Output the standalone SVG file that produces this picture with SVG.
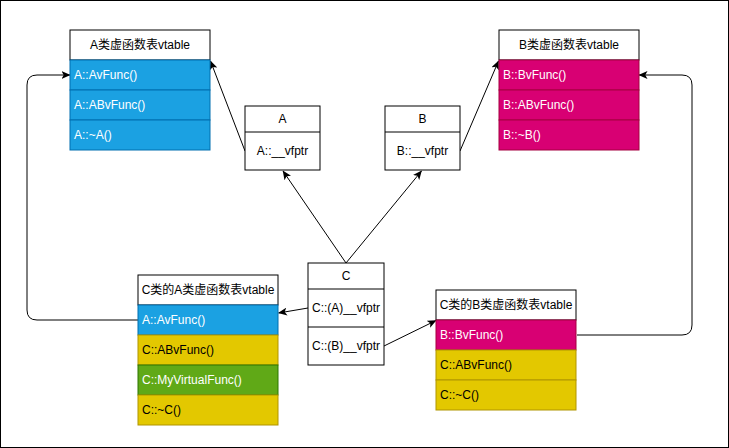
<svg xmlns="http://www.w3.org/2000/svg" width="729" height="448" viewBox="0 0 729 448">
<style>
text{font-family:"Liberation Sans","Noto Sans CJK SC",sans-serif;font-size:12px;}
.c{text-anchor:middle;fill:#000;}
.l{text-anchor:start;}
.w{fill:#fff;}
.k{fill:#000;}
.hd{fill:#fff;stroke:#000;stroke-width:1;}
.blue{fill:#1ba1e2;stroke:#006eaf;}
.mag{fill:#d80073;stroke:#a50040;}
.yel{fill:#e3c800;stroke:#b09500;}
.grn{fill:#60a917;stroke:#2d7600;}
.edge{fill:none;stroke:#000;stroke-width:1;marker-end:url(#arr);}
</style>
<defs>
<marker id="arr" markerUnits="userSpaceOnUse" markerWidth="9" markerHeight="8" viewBox="0 0 9 8" refX="8.5" refY="4" orient="auto">
<path d="M0,0 L9,4 L0,8 L2.2,4 Z" fill="#000"/>
</marker>
</defs>
<rect x="0.5" y="0.5" width="728" height="447" fill="#fff" stroke="#000"/>

<g id="connectors">
<path class="edge" d="M245,151 L210.5,61"/>
<path class="edge" d="M460,151 L498.5,61"/>
<path class="edge" d="M346,263 L283,171"/>
<path class="edge" d="M346,263 L421.5,171"/>
<path class="edge" d="M308,308 L278.5,313"/>
<path class="edge" d="M384,346 L436,320.5"/>
<path class="edge" d="M138,320 L37,320 Q27,320 27,310 L27,85 Q27,75 37,75 L70,75"/>
<path class="edge" d="M577,335 L682,335 Q692,335 692,325 L692,85 Q692,75 682,75 L639,75"/>
</g>

<g id="vtableA">
<rect class="hd" x="70" y="30" width="140" height="30"/>
<text class="c" x="140" y="49">A类虚函数表vtable</text>
<rect class="blue" x="70" y="60" width="140" height="30"/>
<text class="l w" x="74" y="79">A::AvFunc()</text>
<rect class="blue" x="70" y="90" width="140" height="30"/>
<text class="l w" x="74" y="109">A::ABvFunc()</text>
<rect class="blue" x="70" y="120" width="140" height="30"/>
<text class="l w" x="74" y="139">A::~A()</text>
</g>

<g id="vtableB">
<rect class="hd" x="499" y="30" width="140" height="30"/>
<text class="c" x="569" y="49">B类虚函数表vtable</text>
<rect class="mag" x="499" y="60" width="140" height="30"/>
<text class="l w" x="503" y="79">B::BvFunc()</text>
<rect class="mag" x="499" y="90" width="140" height="30"/>
<text class="l w" x="503" y="109">B::ABvFunc()</text>
<rect class="mag" x="499" y="120" width="140" height="30"/>
<text class="l w" x="503" y="139">B::~B()</text>
</g>

<g id="classA">
<rect class="hd" x="245" y="106" width="75" height="64"/>
<line x1="245" y1="132" x2="320" y2="132" stroke="#000"/>
<text class="c" x="282.5" y="123">A</text>
<text class="c" x="282.5" y="155">A::__vfptr</text>
</g>

<g id="classB">
<rect class="hd" x="385" y="106" width="75" height="64"/>
<line x1="385" y1="132" x2="460" y2="132" stroke="#000"/>
<text class="c" x="422.5" y="123">B</text>
<text class="c" x="422.5" y="155">B::__vfptr</text>
</g>

<g id="classC">
<rect class="hd" x="308" y="263" width="76" height="102"/>
<line x1="308" y1="289" x2="384" y2="289" stroke="#000"/>
<line x1="308" y1="327" x2="384" y2="327" stroke="#000"/>
<text class="c" x="346" y="280">C</text>
<text class="c" x="346" y="312">C::(A)__vfptr</text>
<text class="c" x="346" y="350">C::(B)__vfptr</text>
</g>

<g id="vtableCA">
<rect class="hd" x="138" y="275" width="140" height="30"/>
<text class="c" x="208" y="294">C类的A类虚函数表vtable</text>
<rect class="blue" x="138" y="305" width="140" height="30"/>
<text class="l w" x="142" y="324">A::AvFunc()</text>
<rect class="yel" x="138" y="335" width="140" height="30"/>
<text class="l k" x="142" y="354">C::ABvFunc()</text>
<rect class="grn" x="138" y="365" width="140" height="30"/>
<text class="l w" x="142" y="384">C::MyVirtualFunc()</text>
<rect class="yel" x="138" y="395" width="140" height="30"/>
<text class="l k" x="142" y="414">C::~C()</text>
</g>

<g id="vtableCB">
<rect class="hd" x="436" y="290" width="140" height="30"/>
<text class="c" x="506" y="309">C类的B类虚函数表vtable</text>
<rect class="mag" x="436" y="320" width="140" height="30"/>
<text class="l w" x="440" y="339">B::BvFunc()</text>
<rect class="yel" x="436" y="350" width="140" height="30"/>
<text class="l k" x="440" y="369">C::ABvFunc()</text>
<rect class="yel" x="436" y="380" width="140" height="30"/>
<text class="l k" x="440" y="399">C::~C()</text>
</g>
</svg>
